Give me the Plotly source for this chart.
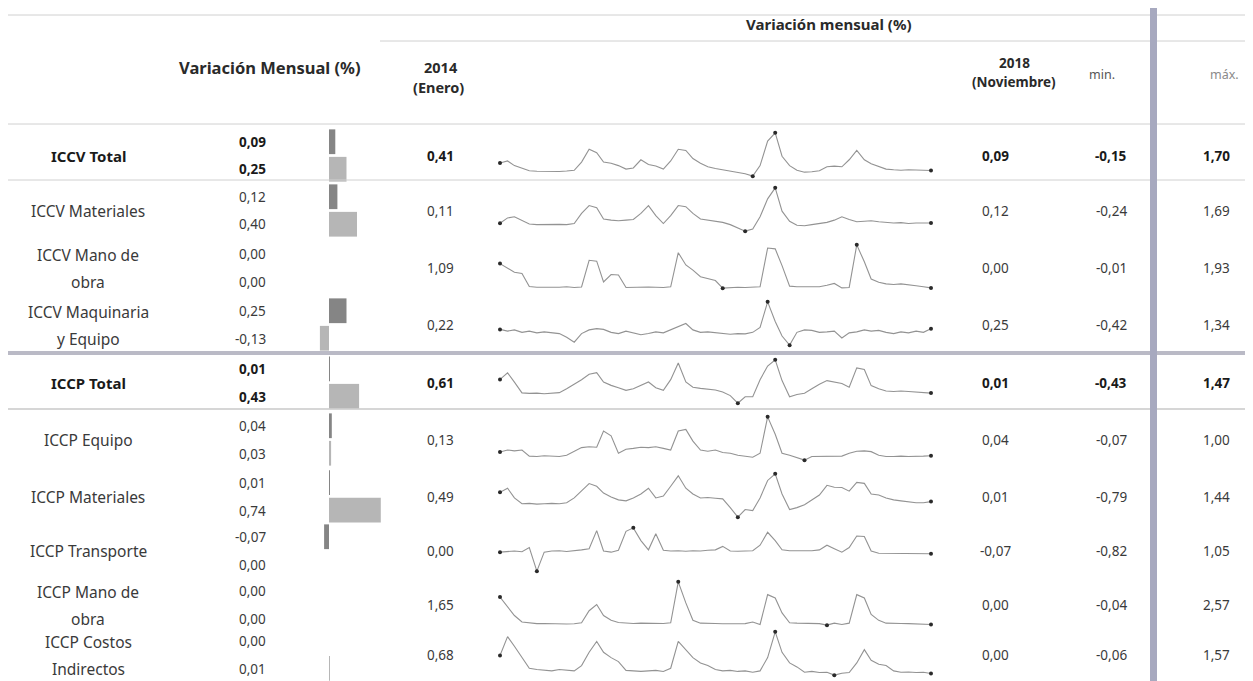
import plotly.graph_objects as go
import pandas as pd

W, H = 1253, 681

# ---------------- data ----------------
row_names = [["ICCV Total"], ["ICCV Materiales"], ["ICCV Mano de", "obra"],
             ["ICCV Maquinaria", "y Equipo"], ["ICCP Total"], ["ICCP Equipo"],
             ["ICCP Materiales"], ["ICCP Transporte"], ["ICCP Mano de", "obra"],
             ["ICCP Costos", "Indirectos"]]
bold_rows = [True, False, False, False, True, False, False, False, False, False]

var_top = [0.09, 0.12, 0.00, 0.25, 0.01, 0.04, 0.01, -0.07, 0.00, 0.00]
var_bottom = [0.25, 0.40, 0.00, -0.13, 0.43, 0.03, 0.74, 0.00, 0.00, 0.01]
val_2014 = [0.41, 0.11, 1.09, 0.22, 0.61, 0.13, 0.49, 0.00, 1.65, 0.68]
val_2018 = [0.09, 0.12, 0.00, 0.25, 0.01, 0.04, 0.01, -0.07, 0.00, 0.00]
val_min = [-0.15, -0.24, -0.01, -0.42, -0.43, -0.07, -0.79, -0.82, -0.04, -0.06]
val_max = [1.70, 1.69, 1.93, 1.34, 1.47, 1.00, 1.44, 1.05, 2.57, 1.57]

months = pd.date_range("2014-01-01", "2018-11-01", freq="MS")

s_iccv_total = [0.41, 0.50, 0.30, 0.20, 0.08, 0.06, 0.05, 0.06, 0.05, 0.07, 0.10, 0.45, 1.00, 0.85, 0.45,
                0.40, 0.30, 0.15, 0.20, 0.55, 0.35, 0.28, 0.15, 0.50, 1.00, 0.95, 0.60, 0.40, 0.25, 0.18,
                0.12, 0.08, 0.02, -0.05, -0.15, 0.30, 1.35, 1.70, 0.70, 0.30, 0.10, 0.02, 0.04, 0.08, 0.25,
                0.28, 0.25, 0.55, 0.95, 0.55, 0.38, 0.25, 0.15, 0.12, 0.10, 0.12, 0.11, 0.13, 0.09]
s_iccv_mat = [0.11, 0.35, 0.40, 0.25, 0.08, 0.05, 0.06, 0.04, 0.06, 0.05, 0.10, 0.55, 0.90, 0.80, 0.30,
              0.25, 0.22, 0.25, 0.28, 0.55, 0.90, 0.45, 0.10, 0.45, 0.90, 0.85, 0.55, 0.30, 0.25, 0.22,
              0.15, 0.05, -0.10, -0.24, -0.15, 0.40, 1.20, 1.69, 0.65, 0.20, 0.02, 0.00, 0.05, 0.10, 0.15,
              0.25, 0.40, 0.28, 0.18, 0.20, 0.22, 0.18, 0.15, 0.12, 0.14, 0.10, 0.12, 0.11, 0.12]
s_iccv_mo = [1.09, 0.90, 0.70, 0.65, 0.06, 0.03, 0.02, 0.04, 0.03, 0.05, 0.02, 0.04, 1.24, 1.20, 0.27,
             0.60, 0.58, 0.02, 0.03, 0.05, 0.04, 0.03, 0.02, 0.05, 1.58, 1.03, 0.80, 0.50, 0.40, 0.33,
             -0.01, 0.02, 0.03, 0.02, 0.03, 0.05, 1.79, 1.75, 1.00, 0.08, 0.05, 0.06, 0.04, 0.05, 0.12,
             0.20, 0.00, 0.02, 1.93, 1.17, 0.40, 0.25, 0.18, 0.15, 0.18, 0.15, 0.10, 0.05, 0.00]
s_iccv_maq = [0.22, 0.15, 0.20, 0.10, 0.15, 0.08, 0.12, 0.10, 0.05, -0.10, -0.30, 0.05, 0.20, 0.25, 0.22,
              0.10, 0.05, 0.15, 0.08, 0.00, 0.05, 0.12, 0.08, 0.20, 0.35, 0.46, 0.20, 0.10, 0.12, 0.08,
              0.05, 0.02, 0.05, 0.04, 0.10, 0.30, 1.34, 0.54, -0.05, -0.42, 0.10, 0.20, 0.18, 0.10, 0.12,
              0.15, -0.13, 0.08, 0.12, 0.20, 0.15, 0.18, 0.10, 0.05, 0.12, 0.08, 0.15, 0.10, 0.25]
s_iccp_total = [0.61, 0.90, 0.49, 0.02, 0.00, 0.01, -0.02, 0.00, 0.03, 0.20, 0.40, 0.60, 0.84, 0.91, 0.50,
                0.35, 0.25, 0.13, 0.20, 0.35, 0.50, 0.25, 0.13, 0.60, 1.33, 0.50, 0.27, 0.22, 0.20, 0.15,
                0.06, -0.10, -0.43, -0.15, -0.15, 0.60, 1.20, 1.47, 0.56, -0.15, -0.05, 0.00, 0.20, 0.40, 0.56,
                0.50, 0.43, 0.27, 1.12, 1.05, 0.34, 0.20, 0.10, 0.08, 0.10, 0.08, 0.06, 0.05, 0.01]
s_iccp_eq = [0.13, 0.18, 0.16, 0.18, 0.03, 0.02, 0.04, 0.03, 0.02, 0.05, 0.15, 0.24, 0.26, 0.25, 0.65,
             0.53, 0.10, 0.20, 0.22, 0.25, 0.24, 0.26, 0.22, 0.18, 0.65, 0.69, 0.40, 0.18, 0.15, 0.18,
             0.12, 0.10, 0.05, 0.02, 0.00, 0.10, 1.00, 0.57, 0.10, 0.05, 0.00, -0.07, 0.02, 0.02, 0.03,
             0.02, 0.03, 0.10, 0.15, 0.16, 0.14, 0.05, 0.02, 0.02, 0.03, 0.02, 0.02, 0.03, 0.04]
s_iccp_mat = [0.49, 0.70, 0.20, -0.10, -0.08, -0.12, -0.10, -0.08, -0.10, -0.05, 0.20, 0.55, 0.94, 0.80, 0.45,
              0.25, 0.10, 0.05, 0.20, 0.40, 0.70, 0.20, 0.30, 0.80, 1.34, 0.70, 0.40, 0.20, 0.22, 0.18,
              0.15, -0.30, -0.79, -0.40, -0.45, 0.20, 1.10, 1.44, 0.40, -0.40, -0.30, -0.15, 0.10, 0.35, 0.85,
              0.75, 0.74, 0.55, 1.00, 0.95, 0.40, 0.35, 0.20, 0.10, 0.05, 0.00, -0.05, -0.05, 0.01]
s_iccp_tr = [0.00, 0.03, 0.05, 0.02, 0.20, -0.82, 0.00, 0.05, 0.06, 0.03, 0.05, 0.10, 0.15, 0.93, 0.05,
             0.00, 0.08, 0.90, 1.05, 0.50, 0.10, 0.80, 0.08, 0.05, 0.06, 0.04, 0.06, 0.05, 0.08, 0.10,
             0.25, 0.05, 0.04, 0.05, 0.06, 0.30, 0.86, 0.50, 0.10, 0.06, 0.05, 0.04, 0.06, 0.10, 0.30,
             0.15, 0.00, 0.20, 0.70, 0.68, 0.05, -0.05, -0.05, -0.05, -0.05, -0.05, -0.05, -0.06, -0.07]
s_iccp_mo = [1.65, 1.10, 0.54, 0.15, 0.08, 0.05, 0.06, 0.04, 0.05, 0.03, 0.04, 0.10, 0.83, 1.20, 0.54,
             0.25, 0.12, 0.08, 0.06, 0.08, 0.07, 0.05, 0.06, 0.10, 2.57, 1.30, 0.25, 0.08, 0.05, 0.06,
             0.04, 0.05, 0.03, 0.05, 0.15, 0.00, 1.80, 1.60, 0.70, 0.10, 0.08, 0.06, 0.08, 0.05, -0.04,
             0.08, 0.00, 0.08, 1.80, 1.60, 0.60, 0.25, 0.08, 0.05, 0.06, 0.05, 0.04, 0.05, 0.00]
s_iccp_ci = [0.68, 1.39, 1.03, 0.60, 0.20, 0.15, 0.12, 0.10, 0.15, 0.12, 0.10, 0.30, 0.80, 1.21, 0.80,
             0.60, 0.45, 0.12, 0.10, 0.08, 0.10, 0.12, 0.08, 0.20, 1.21, 0.90, 0.60, 0.40, 0.30, 0.15,
             0.10, 0.12, 0.08, 0.10, 0.05, 0.10, 0.60, 1.57, 0.80, 0.40, 0.25, 0.05, 0.08, 0.04, 0.05,
             -0.06, 0.01, 0.04, 0.40, 0.90, 0.50, 0.35, 0.30, 0.10, 0.05, 0.06, 0.04, 0.05, 0.00]

series = [s_iccv_total, s_iccv_mat, s_iccv_mo, s_iccv_maq, s_iccp_total,
          s_iccp_eq, s_iccp_mat, s_iccp_tr, s_iccp_mo, s_iccp_ci]

# ---------------- layout helpers ----------------
FONT = "Noto Sans"
ROW_C = [148, 203, 260, 317, 375, 432, 489, 543, 597, 647]


def px(x):
    return x / W


def py(y):
    return 1 - y / H


def fmt(v):
    return f"{v:.2f}".replace(".", ",")


fig = go.Figure()
layout = dict(width=W, height=H, margin=dict(l=0, r=0, t=0, b=0),
              paper_bgcolor="white", plot_bgcolor="rgba(0,0,0,0)", showlegend=False)

# bar x axis (shared) and sparkline x axis (shared)
layout["xaxis"] = dict(domain=[px(290), px(390)], range=[-31 / 70, 69 / 70], visible=False,
                       fixedrange=True, anchor="y")
layout["xaxis2"] = dict(domain=[px(492), px(923)], range=[months[0], months[-1]], visible=False,
                        fixedrange=True, anchor="y11")

DARK = "#858585"
LIGHT = "#b6b6b6"

for i, rc in enumerate(ROW_C):
    # bars (top = Nov 2018, bottom = Nov 2017)
    bid = i + 1
    bname = "y" if bid == 1 else f"y{bid}"
    lname = "yaxis" if bid == 1 else f"yaxis{bid}"
    layout[lname] = dict(domain=[max(0, py(rc + 27)), py(rc - 28)], range=[1.5, -0.5], visible=False,
                         fixedrange=True, anchor="x")
    fig.add_trace(go.Bar(x=[var_top[i], var_bottom[i]], y=[0, 1], orientation="h",
                         width=0.9, marker=dict(color=[DARK, LIGHT], line=dict(width=0)),
                         xaxis="x", yaxis=bname, hoverinfo="skip"))
    # sparklines
    sid = i + 11
    s = series[i]
    lo, hi = min(s), max(s)
    pad = (hi - lo) * 0.02
    layout[f"yaxis{sid}"] = dict(domain=[py(min(rc + 21, 678)), py(rc - 24)], range=[lo - pad, hi + pad],
                                 visible=False, fixedrange=True, anchor="x2")
    fig.add_trace(go.Scatter(x=months, y=s, mode="lines", line=dict(color="#939393", width=1.1),
                             xaxis="x2", yaxis=f"y{sid}", hoverinfo="skip", cliponaxis=False))
    idx = sorted(set([0, len(s) - 1, s.index(lo), s.index(hi)]))
    fig.add_trace(go.Scatter(x=[months[k] for k in idx], y=[s[k] for k in idx], mode="markers",
                             marker=dict(color="#2a2a2a", size=4), xaxis="x2", yaxis=f"y{sid}",
                             hoverinfo="skip", cliponaxis=False))

fig.update_layout(**layout)

# ---------------- lines ----------------
shapes = []
LC = "#d0d0d0"
for (x0, x1, y, w, c) in [(0, W, 7, 1, LC), (372, W, 33, 1, LC), (0, W, 116, 1, LC),
                          (0, W, 172, 1, LC), (0, W, 345, 4, "#babac6"), (0, W, 401, 1.5, "#c8c8c8")]:
    shapes.append(dict(type="line", xref="paper", yref="paper", x0=px(x0), x1=px(x1),
                       y0=py(y), y1=py(y), line=dict(color=c, width=w)))
shapes.append(dict(type="rect", xref="paper", yref="paper", x0=px(1142), x1=px(1149),
                   y0=0, y1=1, fillcolor="#a7a9bf", line=dict(width=0), layer="above"))
fig.update_layout(shapes=shapes)

# ---------------- text ----------------
ann = []


def add_text(x, y, text, size=13.5, bold=False, color="#2a2a2a", xanchor="center"):
    t = f"<b>{text}</b>" if bold else text
    ann.append(dict(x=px(x), y=py(y), xref="paper", yref="paper", text=t, showarrow=False,
                    xanchor=xanchor, yanchor="middle", font=dict(family=FONT, size=size, color=color)))


add_text(821, 16, "Variación mensual (%)", size=15, bold=True)
add_text(262, 59, "Variación Mensual (%)", size=16.5, bold=True)
add_text(433, 59, "2014", size=14.5, bold=True)
add_text(430, 79, "(Enero)", size=14.5, bold=True)
add_text(1006, 55, "2018", size=13.5, bold=True)
add_text(1006, 74, "(Noviembre)", size=13.5, bold=True)
add_text(1094, 67, "min.", size=12.5, color="#555555")
add_text(1216, 67, "máx.", size=12.5, color="#8a8a8a")

for i, rc in enumerate(ROW_C):
    b = bold_rows[i]
    col = "#1a1a1a" if b else "#3a3a3a"
    lines = row_names[i]
    nsize = 15.5 if not b else 15
    if len(lines) == 1:
        add_text(80, rc, lines[0], size=nsize, bold=b, color=col)
    else:
        add_text(80, rc - 13.5, lines[0], size=nsize, bold=b, color=col)
        add_text(80, rc + 13.5, lines[1], size=nsize, bold=b, color=col)
    add_text(260, rc - 14, fmt(var_top[i]), bold=b, color=col, xanchor="right")
    add_text(260, rc + 13.5, fmt(var_bottom[i]), bold=b, color=col, xanchor="right")
    add_text(432, rc, fmt(val_2014[i]), bold=b, color=col)
    add_text(987, rc, fmt(val_2018[i]), bold=b, color=col)
    add_text(1103, rc, fmt(val_min[i]), bold=b, color=col)
    add_text(1208, rc, fmt(val_max[i]), bold=b, color=col)

fig.update_layout(annotations=ann)
fig.write_html("out.html")
